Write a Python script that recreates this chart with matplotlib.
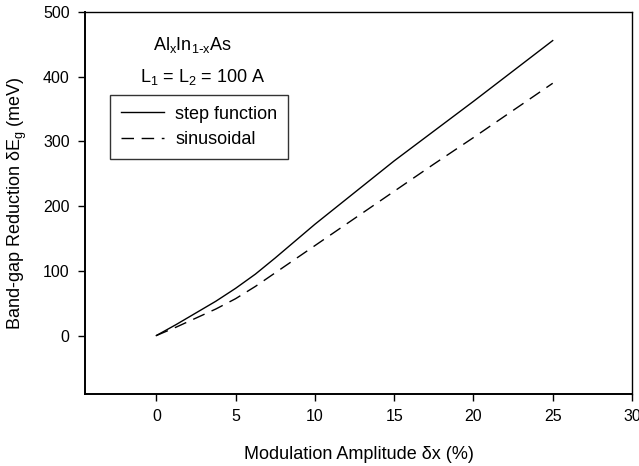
import matplotlib
matplotlib.use('Agg')
import matplotlib.pyplot as plt

plt.rcParams['font.family'] = ['Liberation Sans', 'DejaVu Sans']

# values
dx = [0, 1.25, 2.5, 3.75, 5, 6.25, 7.5, 8.75, 10, 12.5, 15, 17.5, 20, 22.5, 25]
step_fn = [0, 17, 35, 53, 73, 95, 120, 146, 172, 221, 270, 316, 362, 409, 456]
sinus = [0, 13, 27, 41, 57, 76, 97, 118, 139, 181, 223, 265, 306, 348, 390]
xticks = [0, 5, 10, 15, 20, 25, 30]
yticks = [0, 100, 200, 300, 400, 500]

fig = plt.figure(figsize=(6.39, 4.66), dpi=100)
ax = fig.add_axes([0.133, 0.155, 0.856, 0.819])

ax.plot(dx, step_fn, color='black', lw=1.0, label='step function')
ax.plot(dx, sinus, color='black', lw=1.0, dashes=(9, 5.5), label='sinusoidal')

ax.set_xlim(-4.5, 30)
ax.set_ylim(-90, 500)
ax.set_xticks(xticks)
ax.set_yticks(yticks)
ax.tick_params(direction='out', length=5, width=1, labelsize=11.5, pad=6,
               top=False, right=False)
for s in ax.spines.values():
    s.set_linewidth(1.0)
ax.spines['left'].set_linewidth(1.4)
ax.spines['bottom'].set_linewidth(1.4)

ax.set_xlabel('Modulation Amplitude δx (%)', fontsize=13, labelpad=16)
ax.set_ylabel('Band-gap Reduction δE$_\\mathregular{g}$ (meV)', fontsize=13, labelpad=10)

ax.text(2.3, 449, 'Al$_\\mathregular{x}$In$_\\mathregular{1\\text{-}x}$As', fontsize=13, ha='center', va='center')
ax.text(2.9, 400, 'L$_\\mathregular{1}$ = L$_\\mathregular{2}$ = 100 A', fontsize=13, ha='center', va='center')

leg = ax.legend(loc='upper left', bbox_to_anchor=(0.046, 0.783), fontsize=13,
                frameon=True, fancybox=False, edgecolor='black',
                handlelength=2.4, handletextpad=0.6, borderpad=0.6, labelspacing=0.45,
                borderaxespad=0)
leg.get_frame().set_linewidth(1.0)

fig.savefig('out.png', dpi=100)
